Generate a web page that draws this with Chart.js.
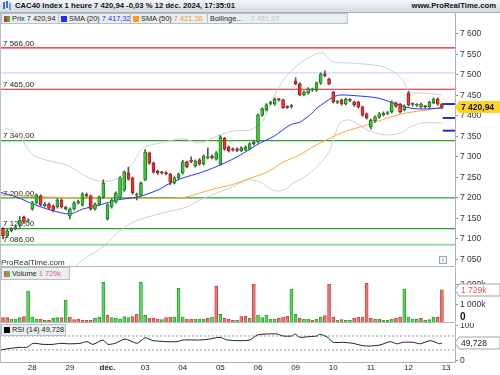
<!DOCTYPE html>
<html>
<head>
<meta charset="utf-8">
<script src="https://cdn.jsdelivr.net/npm/chart.js@4.4.1/dist/chart.umd.min.js"></script>
<style>
body { margin: 0; background: #fff; font-family: "Liberation Sans", Arial, sans-serif; }
#wrap { position: relative; width: 500px; height: 375px; overflow: hidden; background: #fff; }
canvas { position: absolute; left: 0; }
.hdr { position: absolute; left: 0; top: 0; width: 500px; height: 12px; background: linear-gradient(#f3f6f8, #d3dce2); border-bottom: 1px solid #a5b1b9; font-size: 7.7px; font-weight: bold; line-height: 12px; color: #111; }
.hdr .t { position: absolute; left: 15px; }
.hdr .w { position: absolute; right: 4px; }
.hdr .ico { position: absolute; left: 3px; top: 2px; width: 2px; height: 7px; background: #3a6fd8; box-shadow: 3px -1px 0 #3a6fd8, 6px 1px 0 #6fa0ee; }
.lg { position: absolute; height: 9px; background: #e9eef1; border: 1px solid #b5c0c7; font-size: 7.4px; line-height: 9px; color: #222; white-space: nowrap; overflow: hidden; }
.sq { display: inline-block; width: 6px; height: 6px; margin: 0 2px 0 2px; vertical-align: -1px; }
.side { position: absolute; left: 0; width: 1px; background: #b9c2c8; }
.sep { position: absolute; left: 0; width: 455px; height: 1px; background: #aeb8bf; }
.wm { position: absolute; left: 1px; top: 258px; font-size: 8px; color: #333; }
.info { position: absolute; left: 439px; top: 256px; width: 6px; height: 6px; border: 1px solid #9aa; font-size: 6px; line-height: 6px; text-align: center; color: #666; background: #f4f4f4; }
</style>
</head>
<body>
<div id="wrap">
  <canvas id="PriceChart" width="500" height="253" style="top:13px"></canvas>
  <canvas id="VolumeChart" width="500" height="55" style="top:267px"></canvas>
  <canvas id="RsiChart" width="500" height="52" style="top:323px"></canvas>

  <div class="hdr"><span class="ico"></span><span class="t">CAC40 Index 1 heure 7 420,94 -0,03 % 12 déc. 2024, 17:35:01</span><span class="w">www.ProRealTime.com</span></div>
  <div class="side" style="top:13px;height:350px"></div>
  <div class="lg" style="left:1px;top:13px;width:56px"><span class="sq" style="background:linear-gradient(90deg,#d33 50%,#3b3 50%)"></span>Prix 7 420,94</div>
  <div class="lg" style="left:58px;top:13px;width:71px"><span class="sq" style="background:#1f2fff"></span>SMA (20) <span style="color:#1f2fff">7 417,32</span></div>
  <div class="lg" style="left:130px;top:13px;width:76px"><span class="sq" style="background:#ff9a1f"></span>SMA (50) <span style="color:#f39a2a">7 421,36</span></div>
  <div class="lg" style="left:207px;top:13px;width:139px"><span style="margin-left:2px">Bollinge...</span> <span style="color:#c4c8cc;margin-left:6px">7 451,57</span></div>
  <div class="wm">ProRealTime.com</div>
  <div class="info">i</div>
  <div class="sep" style="top:266px"></div>
  <div class="lg" style="left:1px;top:267px;width:67px;height:11px;line-height:11px"><span class="sq" style="background:linear-gradient(90deg,#e55 50%,#4c4 50%)"></span>Volume <span style="color:#e26a6a">1 729k</span></div>
  <div class="sep" style="top:322px"></div>
  <div class="lg" style="left:1px;top:324px;width:63px;height:10px;line-height:10px"><span class="sq" style="background:#000"></span>RSI (14) 49,728</div>
</div>

<script>
// ---- data (one hourly candle per index) ----
const dayLabels = ["28", "29", "déc.", "03", "04", "05", "06", "09", "10", "11", "12", "13"];
const dayStarts = [7, 16, 25, 34, 43, 52, 61, 70, 79, 88, 97, 106];

const opens = [
    7125, 7107, 7120, 7126, 7134, 7153, 7144,
    7173, 7188, 7205, 7181, 7185, 7180, 7178, 7195, 7174,
    7156, 7173, 7188, 7183, 7208, 7205, 7173, 7185, 7202,
    7149, 7178, 7190, 7200, 7219, 7261, 7249, 7207, 7207,
    7244, 7310, 7285, 7265, 7262, 7262, 7258, 7236, 7249,
    7261, 7288, 7292, 7278, 7293, 7283, 7298, 7302, 7295,
    7283, 7346, 7324, 7320, 7320, 7315, 7317, 7319, 7332,
    7337, 7402, 7415, 7430, 7429, 7440, 7439, 7422, 7422,
    7485, 7478, 7451, 7456, 7463, 7463, 7480, 7502, 7490,
    7458, 7433, 7439, 7429, 7439, 7434, 7434, 7422, 7405,
    7373, 7388, 7397, 7403, 7406, 7410, 7432, 7429, 7415,
    7456, 7428, 7426, 7422, 7423, 7422, 7432, 7441, 7429
];
const closes = [
    7108, 7120, 7125, 7129, 7146, 7141, 7146,
    7188, 7207, 7183, 7185, 7175, 7170, 7195, 7178, 7177,
    7173, 7188, 7191, 7210, 7205, 7173, 7185, 7202, 7236,
    7183, 7195, 7212, 7249, 7263, 7246, 7212, 7208, 7236,
    7312, 7285, 7263, 7261, 7261, 7259, 7239, 7249, 7258,
    7288, 7276, 7289, 7290, 7283, 7302, 7300, 7298, 7310,
    7349, 7319, 7315, 7317, 7316, 7322, 7324, 7332, 7336,
    7402, 7417, 7427, 7432, 7441, 7439, 7420, 7421, 7425,
    7478, 7451, 7458, 7466, 7465, 7480, 7502, 7499, 7478,
    7434, 7435, 7429, 7441, 7438, 7427, 7422, 7402, 7395,
    7390, 7398, 7405, 7407, 7408, 7434, 7424, 7410, 7424,
    7427, 7429, 7427, 7429, 7422, 7434, 7441, 7429, 7420.94
];
const highs = [
    7128, 7123, 7128, 7133, 7155, 7156, 7149,
    7192, 7210, 7208, 7189, 7188, 7183, 7198, 7198, 7180,
    7176, 7191, 7195, 7213, 7212, 7207, 7188, 7205, 7244,
    7186, 7198, 7215, 7252, 7266, 7275, 7251, 7212, 7239,
    7318, 7312, 7288, 7268, 7265, 7264, 7260, 7252, 7261,
    7292, 7290, 7300, 7293, 7296, 7305, 7322, 7305, 7313,
    7352, 7348, 7327, 7322, 7322, 7325, 7327, 7335, 7339,
    7405, 7420, 7430, 7436, 7444, 7443, 7441, 7425, 7428,
    7493, 7481, 7461, 7469, 7468, 7483, 7505, 7510, 7492,
    7460, 7438, 7441, 7444, 7442, 7436, 7436, 7424, 7407,
    7392, 7400, 7408, 7410, 7411, 7437, 7434, 7431, 7427,
    7460, 7432, 7430, 7432, 7426, 7436, 7444, 7444, 7431
];
const lows = [
    7100, 7104, 7117, 7122, 7128, 7138, 7141,
    7170, 7185, 7180, 7178, 7172, 7166, 7175, 7175, 7171,
    7149, 7170, 7185, 7180, 7202, 7170, 7170, 7182, 7199,
    7146, 7175, 7187, 7197, 7216, 7243, 7209, 7195, 7204,
    7242, 7282, 7260, 7257, 7258, 7256, 7232, 7234, 7246,
    7258, 7273, 7286, 7275, 7280, 7280, 7295, 7295, 7292,
    7280, 7316, 7312, 7314, 7313, 7313, 7315, 7317, 7329,
    7334, 7399, 7412, 7427, 7426, 7436, 7418, 7418, 7419,
    7476, 7449, 7449, 7453, 7460, 7460, 7477, 7496, 7476,
    7431, 7430, 7426, 7427, 7435, 7424, 7419, 7399, 7392,
    7368, 7385, 7394, 7400, 7403, 7407, 7421, 7407, 7412,
    7424, 7424, 7423, 7419, 7419, 7420, 7430, 7426, 7418
];

// indicator lines, [candle index, value] pairs
const sma20 = [[-0.7, 7214], [3.3, 7202], [7.2, 7185], [11.2, 7171], [16, 7161], [19.1, 7173], [23.2, 7183],
    [27.3, 7195], [32.1, 7202], [35.2, 7212], [37.6, 7222], [39.2, 7232], [43.1, 7249], [47.1, 7261],
    [51.9, 7280], [56, 7300], [59.1, 7319], [61.5, 7334], [64.6, 7349], [68.7, 7378], [71, 7385],
    [73.4, 7402], [75.1, 7419], [79, 7446], [80.6, 7451], [84.7, 7449], [89.5, 7444], [93.3, 7432],
    [97.4, 7419], [101.4, 7417], [104.5, 7419], [105, 7417.32]];
const sma50 = [[-0.7, 7207], [11.2, 7202], [23.2, 7200], [35.2, 7199], [43.1, 7201], [47.1, 7212],
    [51.2, 7224], [55, 7233], [59.1, 7248], [63.2, 7263], [67, 7287], [71, 7305], [74.4, 7326],
    [81.3, 7360], [87.1, 7378], [95, 7404], [102.9, 7417], [105, 7421.36]];
const bbUpper = [[0.5, 7371], [3.3, 7358], [7.2, 7305], [11.2, 7290], [15.3, 7280], [20.1, 7251], [23.2, 7241],
    [27.3, 7246], [31.1, 7285], [33.5, 7322], [37.6, 7334], [43.1, 7344], [47.1, 7334], [51.2, 7351],
    [55, 7363], [59.1, 7366], [62, 7385], [63.9, 7427], [66.3, 7476], [68.7, 7507], [72.3, 7537],
    [76.3, 7554], [78.9, 7532], [83, 7529], [90.9, 7520], [95, 7495], [97.4, 7458], [100.5, 7456],
    [104.5, 7452], [105, 7451.57]];
const bbLower = [[16, 7020], [19.1, 7049], [23.9, 7080], [27.3, 7114], [31.1, 7141], [34.5, 7153],
    [39.2, 7166], [44, 7178], [47.1, 7195], [51.2, 7212], [55, 7227], [58.4, 7244], [61.5, 7239],
    [63.2, 7227], [64.6, 7219], [66.3, 7217], [68, 7224], [69.4, 7236], [71.8, 7249], [74.2, 7268],
    [76.6, 7293], [78.2, 7317], [80.6, 7383], [83, 7390], [87.1, 7366], [90.9, 7354], [95, 7358],
    [97.4, 7373], [100.5, 7383], [105, 7383.07]];

// horizontal levels drawn on the price panel
const levelValues = [7566, 7505, 7465, 7340, 7200, 7125, 7086];
const levelKinds = ["red", "blue", "red", "green", "green", "green", "pale"];
const levelLabelled = [true, false, true, true, true, true, true];
const sideMarks = [7429, 7395, 7364];
const priceTicks = [7050, 7100, 7150, 7200, 7250, 7300, 7350, 7400, 7450, 7500, 7550, 7600];

// volume (thousands) and colour read per bar
const volumes = [
    360, 360, 296, 296, 360, 410, 1675,
    394, 296, 296, 230, 230, 328, 360, 360, 1232,
    394, 263, 296, 230, 230, 230, 328, 394, 2100,
    493, 360, 328, 296, 410, 360, 410, 542, 2100,
    493, 328, 328, 296, 263, 360, 394, 394, 1806,
    394, 296, 296, 296, 296, 296, 328, 394, 1921,
    525, 328, 296, 230, 230, 410, 427, 328, 2003,
    493, 360, 493, 296, 296, 328, 394, 427, 1773,
    525, 328, 296, 296, 230, 296, 394, 460, 2003,
    394, 230, 263, 230, 230, 328, 394, 394, 2052,
    328, 296, 296, 230, 230, 296, 328, 394, 1773,
    394, 296, 296, 328, 230, 263, 394, 394, 1729
];
const volumeDir = ("rrgggrg" + "ggrgrggrg" + "rrrrrrggg" + "rgggggrrg" + "grrrgrrgg" + "grrgggrgr" +
    "grrrgrrgr" + "gggggrrrg" + "grggrggrr" + "rgrggrrrr" + "rgrgggrrg" + "gggrgggrr").split("");
const volumeTicks = [1000, 2000];

const rsi = [[-0.7, 30], [1.7, 34.8], [4.1, 37.6], [5.7, 37.6], [7.2, 49], [9.6, 46], [12, 46], [13.6, 49],
    [16, 47.6], [18.4, 49], [20.1, 53.8], [21.5, 46], [23.9, 58.6], [25.1, 46], [26.8, 49], [29.2, 61.4],
    [32.1, 49], [34, 65], [35.9, 56.7], [39.2, 53.8], [41.6, 53.8], [43.1, 58.6], [47.1, 58.6],
    [49.5, 61.4], [51.9, 66.2], [53.6, 58.6], [56.7, 56.7], [59.1, 58.6], [60.8, 72.9], [63.2, 75.7],
    [65.6, 75.7], [67, 70], [69.1, 70], [69.9, 75.7], [71, 66.2], [72.7, 67.6], [75.1, 70], [75.8, 74.8],
    [77.5, 67.6], [79, 52], [81.3, 52], [83.7, 49], [86.1, 42.3], [87.8, 41.4], [90.2, 44.3],
    [92.6, 53.8], [94.3, 47.6], [95.7, 52], [98.1, 52], [99.8, 47.6], [102.2, 56.7], [104.5, 47.6],
    [105, 49.728]];
const rsiLevels = [70, 30];
const rsiTicks = [0, 100];

// ---- shared layout ----
const X_MIN = -0.72;
const X_MAX = X_MIN + 455 / 4.18;
const AXIS_W = 45;
const FONT = "'Liberation Sans', Arial, sans-serif";

function fmt(v, dec) {
    const parts = v.toFixed(dec).split(".");
    const intPart = parts[0].replace(/\B(?=(\d{3})+(?!\d))/g, " ");
    return dec ? intPart + "," + parts[1] : intPart;
}

const pts = (arr) => arr.map((p) => ({ x: p[0], y: p[1] }));
const flat = (v) => [{ x: X_MIN, y: v }, { x: X_MAX, y: v }];

function rightAxis(min, max, ticks, label) {
    return {
        position: "right",
        min: min,
        max: max,
        afterFit(s) { s.width = AXIS_W; s.paddingTop = 0; s.paddingBottom = 0; },
        afterBuildTicks(s) { s.ticks = ticks.map((v) => ({ value: v })); },
        ticks: { callback: label, color: "#333", padding: 2, font: { family: FONT, size: 8.5 } },
        grid: { drawOnChartArea: false, tickLength: 3, color: "#8e979d" },
        border: { color: "#a9b3ba" },
    };
}

const xHidden = { type: "linear", min: X_MIN, max: X_MAX, offset: false, display: false };

const lineColors = { red: "#e5191c", blue: "#c9d7f7", green: "#2ea12e", pale: "#9fd89f" };

function valueBox(ctx, x, y, text, bg, fg, border, bold) {
    ctx.font = (bold ? "bold " : "") + "8.5px " + FONT;
    ctx.fillStyle = bg;
    ctx.strokeStyle = border;
    ctx.lineWidth = 1;
    ctx.beginPath();
    ctx.moveTo(x - 3, y);
    ctx.lineTo(x + 1, y - 6);
    ctx.lineTo(500, y - 6);
    ctx.lineTo(500, y + 6);
    ctx.lineTo(x + 1, y + 6);
    ctx.closePath();
    ctx.fill();
    if (border) ctx.stroke();
    ctx.fillStyle = fg;
    ctx.textBaseline = "middle";
    ctx.fillText(text, x + 3, y + 0.5);
}

function PriceChart() {
    const ctx = document.getElementById("PriceChart");
    const up = closes.map((c, i) => c >= opens[i]);

    const datasets = [
        {
            type: "bar",
            data: closes.map((c, i) => ({ x: i, y: [opens[i], c] })),
            backgroundColor: up.map((u) => (u ? "#35c935" : "#ec3434")),
            borderColor: up.map((u) => (u ? "#0f6e0f" : "#8e1414")),
            borderWidth: 0.8,
            borderSkipped: false,
            barThickness: 3,
            minBarLength: 1,
            grouped: false,
            order: 1,
        },
        {
            type: "bar",
            data: highs.map((h, i) => ({ x: i, y: [lows[i], h] })),
            backgroundColor: "#555",
            barThickness: 1,
            grouped: false,
            order: 2,
        },
        { type: "line", data: pts(sma20), borderColor: "#2330ff", borderWidth: 1, pointRadius: 0, tension: 0.3, order: 3 },
        { type: "line", data: pts(sma50), borderColor: "#ffa53a", borderWidth: 1, pointRadius: 0, tension: 0.3, order: 4 },
        { type: "line", data: pts(bbUpper), borderColor: "#cfcfcf", borderWidth: 1, pointRadius: 0, tension: 0.3, order: 5 },
        { type: "line", data: pts(bbLower), borderColor: "#cfcfcf", borderWidth: 1, pointRadius: 0, tension: 0.3, order: 5 },
    ];
    levelValues.forEach((v, i) => {
        datasets.push({
            type: "line",
            data: flat(v),
            borderColor: lineColors[levelKinds[i]],
            borderWidth: levelKinds[i] === "pale" ? 2 : 1.2,
            pointRadius: 0,
            order: 9,
        });
    });
    sideMarks.forEach((v) => {
        datasets.push({
            type: "line",
            data: [{ x: 105.2, y: v }, { x: X_MAX, y: v }],
            borderColor: "#1f2fe0",
            borderWidth: 2,
            pointRadius: 0,
            order: 6,
        });
    });

    new Chart(ctx, {
        type: "bar",
        data: { datasets: datasets },
        options: {
            responsive: false,
            animation: false,
            layout: { padding: 0 },
            plugins: { legend: { display: false }, tooltip: { enabled: false } },
            scales: {
                x: xHidden,
                y: rightAxis(7034, 7651, priceTicks, (v) => fmt(v, 0)),
            },
        },
        plugins: [
            {
                id: "levelLabels",
                beforeDatasetsDraw(chart) {
                    const c = chart.ctx;
                    const y = chart.scales.y;
                    c.save();
                    c.font = "8px " + FONT;
                    c.fillStyle = "#222";
                    c.textBaseline = "bottom";
                    levelValues.forEach((v, i) => {
                        if (levelLabelled[i]) c.fillText(fmt(v, 2), 3, y.getPixelForValue(v) - 0.5);
                    });
                    c.restore();
                },
                afterDraw(chart) {
                    const c = chart.ctx;
                    const y = chart.scales.y;
                    c.save();
                    const last = closes[closes.length - 1];
                    valueBox(c, chart.chartArea.right + 3, Math.round(y.getPixelForValue(last)), fmt(last, 2), "#ffd21f", "#111", null, true);
                    c.restore();
                },
            },
        ],
    });
}

function VolumeChart() {
    const ctx = document.getElementById("VolumeChart");
    const green = volumeDir.map((d) => d === "g");

    new Chart(ctx, {
        type: "bar",
        data: {
            datasets: [
                {
                    data: volumes.map((v, i) => ({ x: i, y: v })),
                    backgroundColor: green.map((g) => (g ? "#5cd45c" : "#ee7474")),
                    borderColor: green.map((g) => (g ? "#1f981f" : "#c23c3c")),
                    borderWidth: 0.8,
                    borderSkipped: false,
                    barThickness: 3,
                    grouped: false,
                },
            ],
        },
        options: {
            responsive: false,
            animation: false,
            layout: { padding: 0 },
            plugins: { legend: { display: false }, tooltip: { enabled: false } },
            scales: {
                x: xHidden,
                y: rightAxis(148, 2857, volumeTicks, (v) => fmt(v, 0) + "k"),
            },
        },
        plugins: [
            {
                id: "volumeMarks",
                afterDraw(chart) {
                    const c = chart.ctx;
                    const y = chart.scales.y;
                    const area = chart.chartArea;
                    c.save();
                    c.font = "bold 10px " + FONT;
                    c.fillStyle = "#111";
                    c.textBaseline = "middle";
                    c.fillText("0", area.right + 5, Math.min(y.getPixelForValue(0), area.bottom - 5));
                    const last = volumes[volumes.length - 1];
                    valueBox(c, area.right + 3, Math.round(y.getPixelForValue(last)), fmt(last, 0) + "k", "#fff", "#e05a5a", "#9aa4aa", false);
                    c.restore();
                },
            },
        ],
    });
}

function RsiChart() {
    const ctx = document.getElementById("RsiChart");
    const datasets = [
        { data: pts(rsi), borderColor: "#222", borderWidth: 1, pointRadius: 0, tension: 0.2 },
    ];
    rsiLevels.forEach((v) => {
        datasets.push({ data: flat(v), borderColor: "#9a9a9a", borderWidth: 1, borderDash: [2, 2], pointRadius: 0 });
    });

    new Chart(ctx, {
        type: "line",
        data: { datasets: datasets },
        options: {
            responsive: false,
            animation: false,
            layout: { padding: 0 },
            plugins: { legend: { display: false }, tooltip: { enabled: false } },
            scales: {
                x: {
                    type: "linear",
                    min: X_MIN,
                    max: X_MAX,
                    offset: false,
                    afterFit(s) { s.height = 13; s.paddingLeft = 0; s.paddingRight = 0; },
                    afterBuildTicks(s) { s.ticks = dayStarts.map((v) => ({ value: v })); },
                    ticks: {
                        autoSkip: false,
                        maxRotation: 0,
                        padding: 1,
                        color: "#222",
                        callback: (v) => dayLabels[dayStarts.indexOf(v)],
                        font: (c) => ({ family: FONT, size: 8, weight: c.tick && c.tick.value === 25 ? "bold" : "normal" }),
                    },
                    grid: { display: false, drawTicks: false, tickLength: 0 },
                    border: { color: "#a9b3ba" },
                },
                y: rightAxis(-4.3, 107.1, rsiTicks, (v) => String(v)),
            },
        },
        plugins: [
            {
                id: "rsiBox",
                afterDraw(chart) {
                    const c = chart.ctx;
                    const y = chart.scales.y;
                    const last = rsi[rsi.length - 1][1];
                    c.save();
                    valueBox(c, chart.chartArea.right + 3, Math.round(y.getPixelForValue(last)), fmt(last, 3), "#fff", "#222", "#9aa4aa", false);
                    c.restore();
                },
            },
        ],
    });
}

PriceChart();
VolumeChart();
RsiChart();
</script>
</body>
</html>
